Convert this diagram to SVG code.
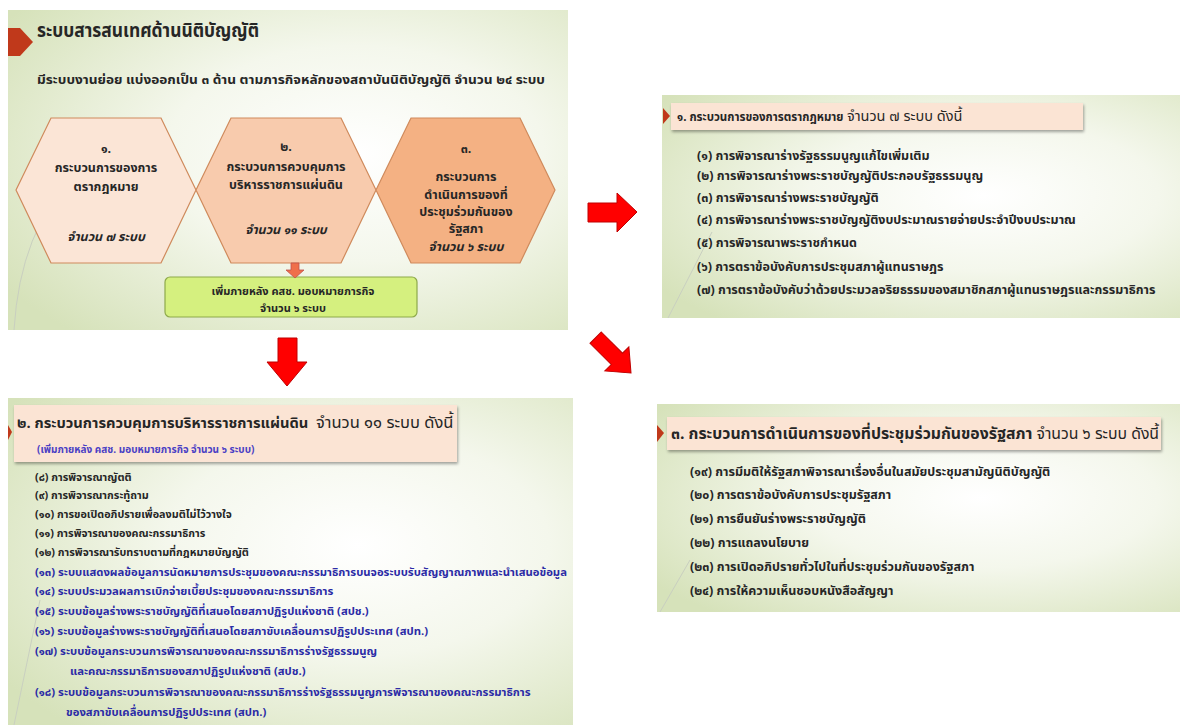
<svg xmlns="http://www.w3.org/2000/svg" width="1186" height="725" viewBox="0 0 1186 725">
<defs>
<radialGradient id="bg" cx="0.62" cy="0.45" r="0.75">
<stop offset="0" stop-color="#ffffff"/>
<stop offset="0.45" stop-color="#f4f7ec"/>
<stop offset="1" stop-color="#d6e2ba"/>
</radialGradient>
<filter id="sh" x="-5%" y="-20%" width="110%" height="150%"><feDropShadow dx="1" dy="2" stdDeviation="1.5" flood-color="#000" flood-opacity="0.35"/></filter>
</defs>
<style>
text{font-family:"Noto Sans Thai","Tahoma","Noto Sans","DejaVu Sans",sans-serif;fill:#262626}
.hx{stroke:#cf8a5c;stroke-width:1.2}
.ht{font-size:12.5px;font-weight:bold;text-anchor:middle}
.hi{font-size:12.5px;font-weight:bold;font-style:italic;text-anchor:middle}
.it{font-size:12.5px;font-weight:bold}
.is{font-size:10.8px;font-weight:bold}
.ib{font-size:11.3px;font-weight:bold;fill:#2b2ba6}
.hd{fill:#fbe4d4}
.mk{fill:#c0391b}
.big{fill:#ff0000;stroke:#c00000;stroke-width:1}
.deco{fill:none;stroke:#c9cfc0;stroke-width:1}
</style>
<rect width="1186" height="725" fill="#ffffff"/>

<g id="slide1">
<rect x="8" y="10" width="560" height="320" fill="url(#bg)"/>
<path class="deco" d="M 14 330 Q 20 230 75 175"/>
<polygon class="mk" points="8,28 20,28 33,42 20,56 8,56"/>
<text x="37" y="37" style="font-size:19px;font-weight:bold" textLength="222" lengthAdjust="spacingAndGlyphs">ระบบสารสนเทศด้านนิติบัญญัติ</text>
<text x="37" y="84" style="font-size:13px;font-weight:bold" textLength="508" lengthAdjust="spacingAndGlyphs">มีระบบงานย่อย แบ่งออกเป็น ๓ ด้าน ตามภารกิจหลักของสถาบันนิติบัญญัติ จำนวน ๒๔ ระบบ</text>
</g>

<g id="hex1">
<polygon class="hx" fill="#fbe5d6" points="16,190 51,118 161,118 196,190 161,263 51,263"/>
<text class="ht" x="106" y="153">๑.</text>
<text class="ht" x="106" y="172">กระบวนการของการ</text>
<text class="ht" x="106" y="191">ตรากฎหมาย</text>
<text class="hi" x="106" y="241">จำนวน ๗ ระบบ</text>
</g>
<g id="hex2">
<polygon class="hx" fill="#f8cbad" points="196,190 231,118 341,118 376,190 341,263 231,263"/>
<text class="ht" x="286" y="151">๒.</text>
<text class="ht" x="286" y="171">กระบวนการควบคุมการ</text>
<text class="ht" x="286" y="189">บริหารราชการแผ่นดิน</text>
<text class="hi" x="286" y="234">จำนวน ๑๑ ระบบ</text>
</g>
<g id="hex3">
<polygon class="hx" fill="#f4b183" points="376,190 411,118 520,118 555,190 520,263 411,263"/>
<text class="ht" x="466" y="153">๓.</text>
<text class="ht" x="466" y="181">กระบวนการ</text>
<text class="ht" x="466" y="199">ดำเนินการของที่</text>
<text class="ht" x="466" y="216">ประชุมร่วมกันของ</text>
<text class="ht" x="466" y="233">รัฐสภา</text>
<text class="hi" x="466" y="251">จำนวน ๖ ระบบ</text>
</g>
<g id="addbox">
<rect x="165" y="277" width="252" height="40" rx="5" fill="#d5f07f" stroke="#8ea94b" stroke-width="1.2"/>
<text x="293" y="295" style="font-size:11px;font-weight:bold;text-anchor:middle">เพิ่มภายหลัง คสช. มอบหมายภารกิจ</text>
<text x="293" y="312" style="font-size:11px;font-weight:bold;text-anchor:middle">จำนวน ๖ ระบบ</text>
</g>

<g id="slide2">
<rect x="662" y="95" width="518" height="223" fill="url(#bg)"/>
<path class="deco" d="M 668 318 L 712 232"/>
<rect class="hd" x="671" y="103" width="412" height="27" filter="url(#sh)"/>
<polygon class="mk" points="663,108 670,116 663,124"/>
<text x="677" y="121" style="font-size:11.5px;font-weight:bold">๑. กระบวนการของการตรากฎหมาย</text>
<text x="847" y="121" style="font-size:14.5px">จำนวน ๗ ระบบ ดังนี้</text>
<text class="it" x="697" y="160">(๑) การพิจารณาร่างรัฐธรรมนูญแก้ไขเพิ่มเติม</text>
<text class="it" x="697" y="180">(๒) การพิจารณาร่างพระราชบัญญัติประกอบรัฐธรรมนูญ</text>
<text class="it" x="697" y="202">(๓) การพิจารณาร่างพระราชบัญญัติ</text>
<text class="it" x="697" y="224">(๔) การพิจารณาร่างพระราชบัญญัติงบประมาณรายจ่ายประจำปีงบประมาณ</text>
<text class="it" x="697" y="247">(๕) การพิจารณาพระราชกำหนด</text>
<text class="it" x="697" y="271">(๖) การตราข้อบังคับการประชุมสภาผู้แทนราษฎร</text>
<text class="it" x="697" y="294">(๗) การตราข้อบังคับว่าด้วยประมวลจริยธรรมของสมาชิกสภาผู้แทนราษฎรและกรรมาธิการ</text>
</g>

<g id="slide3">
<rect x="8" y="398" width="565" height="327" fill="url(#bg)"/>
<path class="deco" d="M 14 725 L 40 600"/>
<rect class="hd" x="14" y="405" width="443" height="57" filter="url(#sh)"/>
<polygon class="mk" points="8,425 12,432 8,440"/>
<text x="17" y="428" style="font-size:14.7px;font-weight:bold">๒. กระบวนการควบคุมการบริหารราชการแผ่นดิน</text>
<text x="316" y="428" style="font-size:16.5px">จำนวน ๑๑ ระบบ ดังนี้</text>
<text x="37" y="453" style="font-size:10px;font-weight:bold;fill:#4a3fc4">(เพิ่มภายหลัง คสช. มอบหมายภารกิจ จำนวน ๖ ระบบ)</text>
<text class="is" x="35" y="481">(๘) การพิจารณาญัตติ</text>
<text class="is" x="35" y="499">(๙) การพิจารณากระทู้ถาม</text>
<text class="is" x="35" y="518">(๑๐) การขอเปิดอภิปรายเพื่อลงมติไม่ไว้วางใจ</text>
<text class="is" x="35" y="537">(๑๑) การพิจารณาของคณะกรรมาธิการ</text>
<text class="is" x="35" y="556">(๑๒) การพิจารณารับทราบตามที่กฎหมายบัญญัติ</text>
<text class="ib" x="35" y="576">(๑๓) ระบบแสดงผลข้อมูลการนัดหมายการประชุมของคณะกรรมาธิการบนจอระบบรับสัญญาณภาพและนำเสนอข้อมูล</text>
<text class="ib" x="35" y="595">(๑๔) ระบบประมวลผลการเบิกจ่ายเบี้ยประชุมของคณะกรรมาธิการ</text>
<text class="ib" x="35" y="615">(๑๕) ระบบข้อมูลร่างพระราชบัญญัติที่เสนอโดยสภาปฏิรูปแห่งชาติ (สปช.)</text>
<text class="ib" x="35" y="635">(๑๖) ระบบข้อมูลร่างพระราชบัญญัติที่เสนอโดยสภาขับเคลื่อนการปฏิรูปประเทศ (สปท.)</text>
<text class="ib" x="35" y="655">(๑๗) ระบบข้อมูลกระบวนการพิจารณาของคณะกรรมาธิการร่างรัฐธรรมนูญ</text>
<text class="ib" x="70" y="675">และคณะกรรมาธิการของสภาปฏิรูปแห่งชาติ (สปช.)</text>
<text class="ib" x="35" y="696">(๑๘) ระบบข้อมูลกระบวนการพิจารณาของคณะกรรมาธิการร่างรัฐธรรมนูญการพิจารณาของคณะกรรมาธิการ</text>
<text class="ib" x="66" y="716">ของสภาขับเคลื่อนการปฏิรูปประเทศ (สปท.)</text>
</g>

<g id="slide4">
<rect x="657" y="404" width="523" height="208" fill="url(#bg)"/>
<path class="deco" d="M 660 612 L 690 560"/>
<rect class="hd" x="667" y="417" width="494" height="33" filter="url(#sh)"/>
<polygon class="mk" points="657,425 664,433 657,442"/>
<text x="671" y="439" style="font-size:15.8px"><tspan font-weight="bold">๓. กระบวนการดำเนินการของที่ประชุมร่วมกันของรัฐสภา</tspan> จำนวน ๖ ระบบ ดังนี้</text>
<text class="it" x="690" y="476">(๑๙) การมีมติให้รัฐสภาพิจารณาเรื่องอื่นในสมัยประชุมสามัญนิติบัญญัติ</text>
<text class="it" x="690" y="499">(๒๐) การตราข้อบังคับการประชุมรัฐสภา</text>
<text class="it" x="690" y="523">(๒๑) การยืนยันร่างพระราชบัญญัติ</text>
<text class="it" x="690" y="547">(๒๒) การแถลงนโยบาย</text>
<text class="it" x="690" y="571">(๒๓) การเปิดอภิปรายทั่วไปในที่ประชุมร่วมกันของรัฐสภา</text>
<text class="it" x="690" y="595">(๒๔) การให้ความเห็นชอบหนังสือสัญญา</text>
</g>

<g id="connectors">
<polygon points="291,263 299,263 299,270 304,270 295,278 286,270 291,270" fill="#ef6f4a" stroke="#c0504d" stroke-width="0.8"/>
<polygon class="big" points="588,203 617,203 617,193 637,212 617,232 617,222 588,222"/>
<polygon class="big" points="278,338 297,338 297,362 307,362 287,386 267,362 278,362"/>
<polygon class="big" transform="translate(631,373) rotate(45)" points="-50,-8 -20,-8 -20,-17 0,0 -20,17 -20,8 -50,8"/>
</g>
</svg>
